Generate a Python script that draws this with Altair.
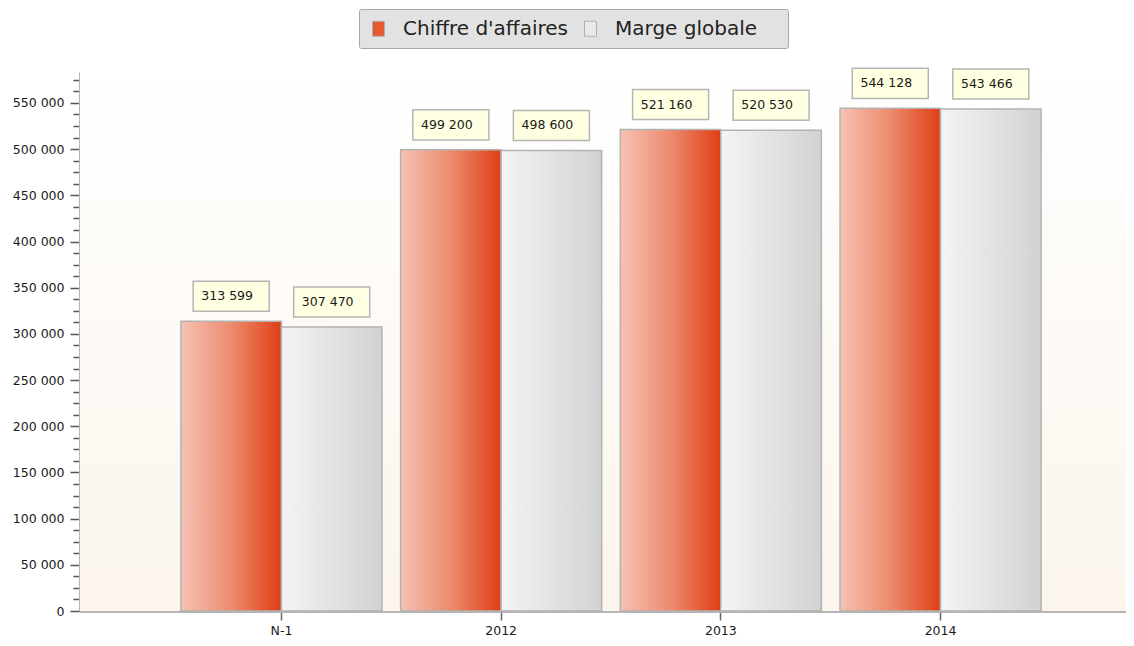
import altair as alt
import pandas as pd

categories = ["N-1", "2012", "2013", "2014"]
series_names = ["Chiffre d'affaires", "Marge globale"]
chiffre_affaires = [313599, 499200, 521160, 544128]
marge_globale = [307470, 498600, 520530, 543466]

rows = []
for c, v1, v2 in zip(categories, chiffre_affaires, marge_globale):
    rows.append({"cat": c, "series": series_names[0], "value": v1, "label": f"{v1:,}".replace(",", " ")})
    rows.append({"cat": c, "series": series_names[1], "value": v2, "label": f"{v2:,}".replace(",", " ")})
df = pd.DataFrame(rows)

FONT = "DejaVu Sans"
PAD_TAIL = "\u00a0\u2800"

red_grad = alt.Gradient(
    gradient="linear", x1=0, x2=1, y1=0, y2=0,
    stops=[alt.GradientStop(color="#f6c2b2", offset=0),
           alt.GradientStop(color="#ec8b6e", offset=0.5),
           alt.GradientStop(color="#e03e14", offset=1)])
grey_grad = alt.Gradient(
    gradient="linear", x1=0, x2=1, y1=0, y2=0,
    stops=[alt.GradientStop(color="#f4f4f4", offset=0),
           alt.GradientStop(color="#d2d2d2", offset=1)])
bg_grad = alt.Gradient(
    gradient="linear", x1=0, x2=0, y1=0, y2=1,
    stops=[alt.GradientStop(color="#ffffff", offset=0),
           alt.GradientStop(color="#fbf5ec", offset=1)])

x_enc = alt.X("cat:N", sort=categories, title=None,
              scale=alt.Scale(paddingInner=0.085, paddingOuter=0.423, align=0.543),
              axis=alt.Axis(labelAngle=0, labelFont=FONT, labelFontSize=12.5, labelColor="#1a1a1a",
                            domainColor="#b5b5b5", domainWidth=3, tickColor="#666666", tickWidth=1.5,
                            tickSize=9, labelPadding=4, grid=False))
xo_enc = alt.XOffset("series:N", sort=series_names,
                     scale=alt.Scale(domain=series_names, paddingInner=0, paddingOuter=0))
y_enc = alt.Y("value:Q", title=None,
              scale=alt.Scale(domain=[0, 583500], nice=False, zero=True),
              axis=alt.Axis(values=list(range(0, 583500, 12500)),
                            labelExpr="datum.value % 50000 === 0 ? (datum.value === 0 ? '0' : format(datum.value / 1000, 'd') + ' 000') : ''",
                            labelFont=FONT, labelFontSize=12.5, labelColor="#1a1a1a",
                            domainColor="#b5b5b5", domainWidth=3,
                            tickColor="#555555", tickWidth=1.5,
                            tickSize={"condition": {"test": "datum.value % 50000 === 0", "value": 10}, "value": 7},
                            labelPadding=6,
                            grid=True, gridColor="#7a7a7a", gridDash=[1.5, 1.5], gridWidth=1,
                            gridOpacity={"condition": {"test": "datum.value % 50000 === 0 && datum.value > 0", "value": 1}, "value": 0}))

base = alt.Chart(df)

bg = alt.Chart(alt.Data(values=[{}])).mark_rect(fill=bg_grad).encode(
    x=alt.value(0), x2=alt.value("width"), y=alt.value(0), y2=alt.value("height"))

bars_ca = base.transform_filter(alt.datum.series == series_names[0]).mark_bar(
    fill=red_grad, stroke="#b3b3b3", strokeWidth=1.5).encode(x=x_enc, xOffset=xo_enc, y=y_enc)
bars_mg = base.transform_filter(alt.datum.series == series_names[1]).mark_bar(
    fill=grey_grad, stroke="#b3b3b3", strokeWidth=1.5).encode(x=x_enc, xOffset=xo_enc, y=y_enc)

legend_layer = base.mark_square(opacity=0).encode(
    x=x_enc, xOffset=xo_enc, y=y_enc,
    color=alt.Color("series:N", sort=series_names,
                    scale=alt.Scale(domain=series_names, range=["#e65a32", "#e9e9e9"]),
                    legend=alt.Legend(title=None, orient="none", legendX=279, legendY=-63,
                                      direction="horizontal", columns=2,
                                      labelExpr="datum.value === 'Marge globale' ? datum.label + '" + PAD_TAIL + "' : datum.label",
                                      labelLimit=400,
                                      symbolType="M-0.6,-0.75L0.6,-0.75L0.6,0.75L-0.6,0.75Z", symbolSize=400,
                                      symbolOpacity=1, symbolStrokeColor="#b0b0b0", symbolStrokeWidth=1,
                                      labelFont=FONT, labelFontSize=20, labelColor="#222222",
                                      labelOffset=14, columnPadding=12, padding=9,
                                      fillColor="#e2e2e2", strokeColor="#a8a8a8", cornerRadius=2)))

boxes = base.mark_point(shape="M-1,-0.395L1,-0.395L1,0.395L-1,0.395Z", size=5776, filled=True,
                        fill="#ffffe1", stroke="#b5b5b5", strokeWidth=1.5, opacity=1,
                        yOffset=-25).encode(x=x_enc, xOffset=xo_enc, y=y_enc)

texts = base.mark_text(font=FONT, fontSize=12.5, color="#1a1a1a", align="center", baseline="middle",
                       dx=-4, yOffset=-25).encode(x=x_enc, xOffset=xo_enc, y=y_enc, text="label:N")

chart = alt.layer(bg, bars_ca, bars_mg, legend_layer, boxes, texts).properties(
    width=1046, height=539,
    padding={"left": 4, "top": 0, "right": 0, "bottom": 0},
    background="white",
).configure_view(stroke=None)

chart.save("out.html", embed_options={"renderer": "svg", "actions": False})
